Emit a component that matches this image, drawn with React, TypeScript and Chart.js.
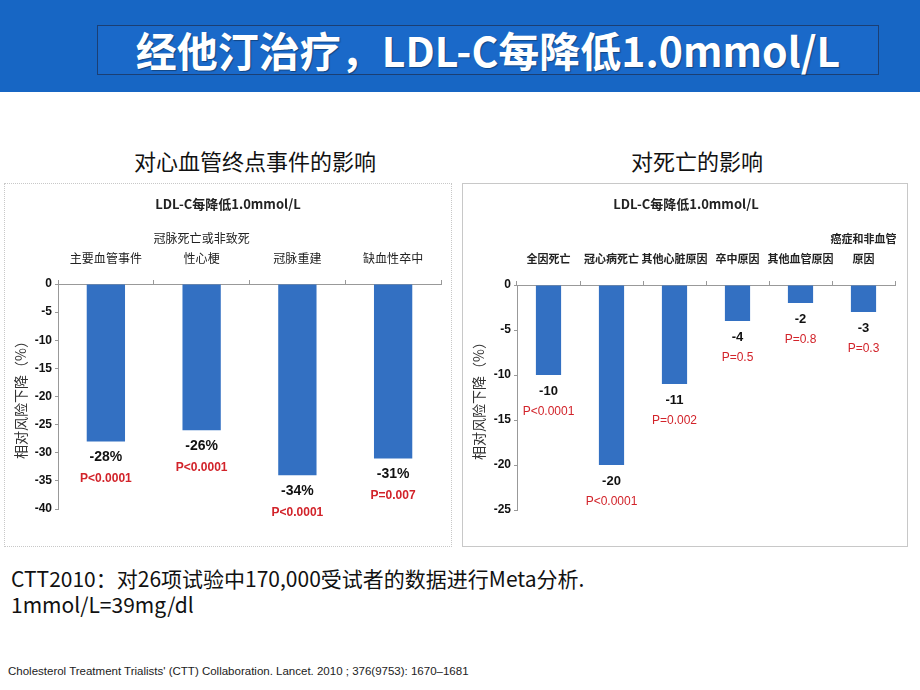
import React, { useEffect, useRef } from "react";
import { Chart, registerables } from "chart.js";

Chart.register(...registerables);

// ---- Data ----
const leftCategories: (string | string[])[] = [
  "主要血管事件",
  ["冠脉死亡或非致死", "性心梗"],
  "冠脉重建",
  "缺血性卒中",
];
const leftValues = [-28, -26, -34, -31];
const leftValueLabels = ["-28%", "-26%", "-34%", "-31%"];
const leftPLabels = ["P<0.0001", "P<0.0001", "P<0.0001", "P=0.007"];
const leftTicks = [0, -5, -10, -15, -20, -25, -30, -35, -40];

const rightCategories: (string | string[])[] = [
  "全因死亡",
  "冠心病死亡",
  "其他心脏原因",
  "卒中原因",
  "其他血管原因",
  ["癌症和非血管", "原因"],
];
const rightValues = [-10, -20, -11, -4, -2, -3];
const rightValueLabels = ["-10", "-20", "-11", "-4", "-2", "-3"];
const rightPLabels = ["P<0.0001", "P<0.0001", "P=0.002", "P=0.5", "P=0.8", "P=0.3"];
const rightTicks = [0, -5, -10, -15, -20, -25];

const chartTitle = "LDL-C每降低1.0mmol/L";
const yTitle = "相对风险下降（%）";

const CJK = '"Noto Sans CJK SC", "Noto Sans", sans-serif';
const NUM = '"Liberation Sans Narrow", "Liberation Sans", Arial, sans-serif';
const BAR = "#3370C2";
const RED = "#D2232A";

type Cfg = {
  categories: (string | string[])[];
  values: number[];
  valueLabels: string[];
  pLabels: string[];
  ticks: number[];
  min: number;
  yWidth: number;
  xHeight: number;
  padRight: number;
  padBottom: number;
  catFont: { size: number; weight: string };
  valFont: number;
  pFont: { size: number; weight: string };
};

function BarPanel({ cfg }: { cfg: Cfg }) {
  const ref = useRef<HTMLCanvasElement | null>(null);
  useEffect(() => {
    if (!ref.current) return;
    const labelPlugin = {
      id: "valLabels",
      afterDatasetsDraw(chart: any) {
        const ctx = chart.ctx;
        const meta = chart.getDatasetMeta(0);
        ctx.save();
        ctx.textAlign = "center";
        ctx.textBaseline = "middle";
        meta.data.forEach((el: any, i: number) => {
          const x = el.x;
          const y = el.y;
          ctx.fillStyle = "#111";
          ctx.font = `bold ${cfg.valFont}px ${NUM}`;
          ctx.fillText(cfg.valueLabels[i], x, y + 16);
          ctx.fillStyle = RED;
          ctx.font = `${cfg.pFont.weight} ${cfg.pFont.size}px ${NUM}`;
          ctx.fillText(cfg.pLabels[i], x, y + 37);
        });
        ctx.fillStyle = "#222";
        ctx.font = `bold 13px ${CJK}`;
        ctx.fillText(chartTitle, chart.width / 2, 20);
        ctx.restore();
      },
    };
    const chart = new Chart(ref.current, {
      type: "bar",
      data: {
        labels: cfg.categories,
        datasets: [
          {
            data: cfg.values,
            backgroundColor: BAR,
            borderWidth: 0,
            categoryPercentage: 1,
            barPercentage: 0.4,
          },
        ],
      },
      options: {
        animation: false,
        responsive: false,
        maintainAspectRatio: false,
        layout: { padding: { top: 0, left: 0, right: cfg.padRight, bottom: cfg.padBottom } },
        plugins: {
          legend: { display: false },
          tooltip: { enabled: false },
          title: { display: false },
        },
        scales: {
          x: {
            position: "top",
            grid: {
              display: true,
              drawOnChartArea: false,
              drawTicks: true,
              tickLength: 4,
              color: "#999",
              offset: true,
            },
            border: { display: true, color: "#999" },
            ticks: {
              color: "#222",
              font: { family: CJK, size: cfg.catFont.size, weight: cfg.catFont.weight as any, lineHeight: "20px" },
              padding: 12,
              maxRotation: 0,
              autoSkip: false,
            },
            afterFit(scale: any) {
              scale.height = cfg.xHeight;
            },
          },
          y: {
            min: cfg.min,
            max: 0,
            afterBuildTicks(scale: any) {
              scale.ticks = cfg.ticks.map((v) => ({ value: v }));
            },
            grid: {
              display: true,
              drawOnChartArea: false,
              drawTicks: true,
              tickLength: 3,
              color: "#999",
            },
            border: { display: true, color: "#999" },
            ticks: {
              color: "#111",
              font: { family: NUM, size: 12, weight: "bold" },
              padding: 3,
            },
            title: {
              display: true,
              text: yTitle,
              color: "#333",
              font: { family: CJK, size: 14 },
              padding: { top: 7, bottom: 0 },
            },
            afterFit(scale: any) {
              scale.width = cfg.yWidth;
            },
          },
        },
      } as any,
      plugins: [labelPlugin],
    });
    return () => chart.destroy();
  }, [cfg]);
  return <canvas ref={ref} width={446} height={363} style={{ display: "block" }} />;
}

const leftCfg: Cfg = {
  categories: leftCategories,
  values: leftValues,
  valueLabels: leftValueLabels,
  pLabels: leftPLabels,
  ticks: leftTicks,
  min: -40,
  yWidth: 53,
  xHeight: 100,
  padRight: 10,
  padBottom: 38,
  catFont: { size: 12, weight: "normal" },
  valFont: 14,
  pFont: { size: 12, weight: "bold" },
};

const rightCfg: Cfg = {
  categories: rightCategories,
  values: rightValues,
  valueLabels: rightValueLabels,
  pLabels: rightPLabels,
  ticks: rightTicks,
  min: -25,
  yWidth: 54,
  xHeight: 101,
  padRight: 6,
  padBottom: 37,
  catFont: { size: 11, weight: "bold" },
  valFont: 13,
  pFont: { size: 12, weight: "normal" },
};

export default function App() {
  return (
    <div
      style={{
        position: "fixed",
        left: 0,
        top: 0,
        width: 920,
        height: 690,
        background: "#fff",
        overflow: "hidden",
        fontFamily: CJK,
      }}
    >
      <div style={{ position: "absolute", left: 0, top: 0, width: 920, height: 92, background: "#1766C4" }} />
      <div
        style={{
          position: "absolute",
          left: 97,
          top: 25,
          width: 782,
          height: 50,
          border: "1px solid #1B3F74",
          background: "#1A69C9",
          boxSizing: "border-box",
          color: "#fff",
          fontWeight: "bold",
          fontSize: 41,
          lineHeight: "46px",
          textAlign: "center",
          whiteSpace: "nowrap",
          textShadow: "1px 1px 1px rgba(0,0,0,0.35)",
        }}
      >
        经他汀治疗，LDL-C每降低1.0mmol/L
      </div>

      <div style={{ position: "absolute", left: 5, width: 500, top: 144, textAlign: "center", fontSize: 22, lineHeight: "32px", color: "#111" }}>
        对心血管终点事件的影响
      </div>
      <div style={{ position: "absolute", left: 463, width: 468, top: 144, textAlign: "center", fontSize: 22, lineHeight: "32px", color: "#111" }}>
        对死亡的影响
      </div>

      <div style={{ position: "absolute", left: 4, top: 183, width: 448, height: 364, border: "1px dotted #C8C8C8", boxSizing: "border-box" }}>
        <BarPanel cfg={leftCfg} />
      </div>
      <div style={{ position: "absolute", left: 462, top: 183, width: 446, height: 364, border: "1px solid #C8C8C8", boxSizing: "border-box" }}>
        <BarPanel cfg={rightCfg} />
      </div>

      <div style={{ position: "absolute", left: 11, top: 565, fontSize: 21, color: "#111", lineHeight: "26px" }}>
        <div>CTT2010：对26项试验中170,000受试者的数据进行Meta分析.</div>
        <div>1mmol/L=39mg/dl</div>
      </div>
      <div style={{ position: "absolute", left: 8, top: 665, fontSize: 11.5, color: "#222", fontFamily: '"Liberation Sans", Arial, sans-serif' }}>
        Cholesterol Treatment Trialists' (CTT) Collaboration. Lancet. 2010 ; 376(9753): 1670–1681
      </div>
    </div>
  );
}
